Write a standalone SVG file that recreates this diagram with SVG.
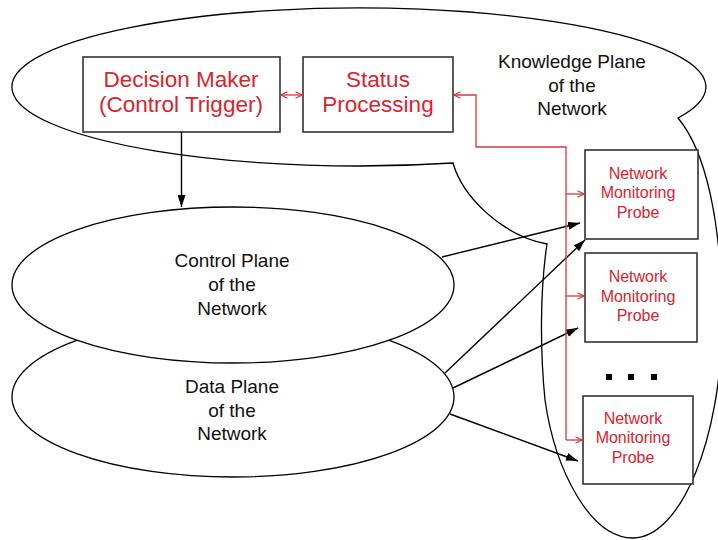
<svg xmlns="http://www.w3.org/2000/svg" width="718" height="540" viewBox="0 0 718 540">
<defs>
<style>
.plane{fill:#fff;stroke:#000;stroke-width:1.3}
.box{fill:#fff;stroke:#333;stroke-width:1.6}
.lbl{font-family:"Liberation Sans",Arial,sans-serif;fill:#111;font-size:19px;text-anchor:middle}
.red{font-family:"Liberation Sans",Arial,sans-serif;fill:#d9232e;font-size:22.5px;text-anchor:middle}
.probe{font-family:"Liberation Sans",Arial,sans-serif;fill:#d9232e;font-size:16px;text-anchor:middle}
.blk{fill:none;stroke:#000;stroke-width:1.4}
.rln{fill:none;stroke:#d33a40;stroke-width:1.3}
</style>
<marker id="ab" viewBox="0 0 12 8" refX="12" refY="4" markerWidth="12" markerHeight="8" markerUnits="userSpaceOnUse" orient="auto">
<path d="M0,0 L12,4 L0,8 Z" fill="#000"/>
</marker>
<marker id="ar" viewBox="0 0 8 8" refX="7.5" refY="4" markerWidth="8" markerHeight="8" markerUnits="userSpaceOnUse" orient="auto-start-reverse">
<path d="M1,0.8 L7.5,4 L1,7.2" fill="none" stroke="#d33a40" stroke-width="1.2"/>
</marker>
</defs>
<rect width="718" height="540" fill="#fff"/>
<g id="knowledge-plane">
<path class="plane" d="M453,163 A347 79 0 1 1 678,118 C705,150 722,220 722,320 C722,440 680,538 633,538 C590,538 555,470 545,400 C540,350 540,290 547,244 C500,235 462,195 453,163 Z"/>
<text class="lbl" x="572" y="68">Knowledge Plane</text>
<text class="lbl" x="572" y="92">of the</text>
<text class="lbl" x="572" y="115">Network</text>
</g>
<g id="data-plane">
<ellipse class="plane" cx="233" cy="397" rx="221" ry="80"/>
<text class="lbl" x="232" y="393">Data Plane</text>
<text class="lbl" x="232" y="417">of the</text>
<text class="lbl" x="232" y="440">Network</text>
</g>
<g id="control-plane">
<ellipse class="plane" cx="233" cy="285" rx="221" ry="78"/>
<text class="lbl" x="232" y="267">Control Plane</text>
<text class="lbl" x="232" y="291">of the</text>
<text class="lbl" x="232" y="315">Network</text>
</g>
<g id="decision-maker">
<rect class="box" x="83" y="57" width="197" height="75"/>
<text class="red" x="181" y="87">Decision Maker</text>
<text class="red" x="181" y="112">(Control Trigger)</text>
</g>
<g id="status-processing">
<rect class="box" x="303" y="57" width="150" height="75"/>
<text class="red" x="378" y="87">Status</text>
<text class="red" x="378" y="112">Processing</text>
</g>
<g id="probe-1">
<rect class="box" x="585" y="150" width="113" height="89"/>
<text class="probe" x="638" y="179">Network</text>
<text class="probe" x="638" y="198">Monitoring</text>
<text class="probe" x="638" y="218">Probe</text>
</g>
<g id="probe-2">
<rect class="box" x="585" y="253" width="112" height="89"/>
<text class="probe" x="638" y="282">Network</text>
<text class="probe" x="638" y="302">Monitoring</text>
<text class="probe" x="638" y="321">Probe</text>
</g>
<g id="probe-3">
<rect class="box" x="583" y="396" width="110" height="88"/>
<text class="probe" x="633" y="424">Network</text>
<text class="probe" x="633" y="443">Monitoring</text>
<text class="probe" x="633" y="463">Probe</text>
</g>
<g id="ellipsis">
<rect x="606" y="374" width="6" height="6" fill="#000"/>
<rect x="628" y="374" width="6" height="6" fill="#000"/>
<rect x="651" y="374" width="6" height="6" fill="#000"/>
</g>
<g id="connectors">
<line class="blk" x1="181.5" y1="132" x2="181.5" y2="207" marker-end="url(#ab)"/>
<line class="blk" x1="442" y1="257" x2="580" y2="223" marker-end="url(#ab)"/>
<line class="blk" x1="445" y1="373" x2="585" y2="240" marker-end="url(#ab)"/>
<line class="blk" x1="453" y1="388" x2="578" y2="328" marker-end="url(#ab)"/>
<line class="blk" x1="450" y1="414" x2="578" y2="461" marker-end="url(#ab)"/>
<line class="rln" x1="281" y1="95" x2="302" y2="95" marker-start="url(#ar)" marker-end="url(#ar)"/>
<path class="rln" d="M566,440 V147 H476 V95 H454" marker-end="url(#ar)"/>
<path class="rln" d="M566,194 H584" marker-end="url(#ar)"/>
<path class="rln" d="M566,296 H584" marker-end="url(#ar)"/>
<path class="rln" d="M566,440 H582" marker-end="url(#ar)"/>
</g>
</svg>
